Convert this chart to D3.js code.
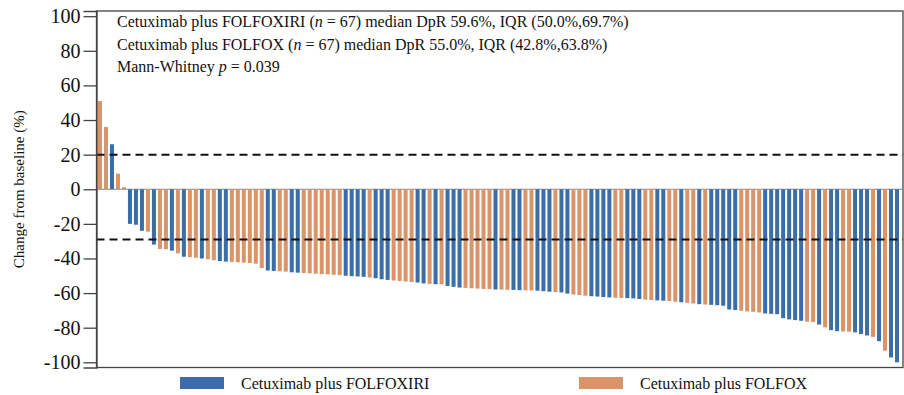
<!DOCTYPE html>
<html>
<head>
<meta charset="utf-8">
<script src="https://cdn.jsdelivr.net/npm/d3@7/dist/d3.min.js"></script>
<style>
  html, body { margin: 0; padding: 0; background: #fff; }
  svg { display: block; }
  text { font-family: "Liberation Serif", "Times New Roman", serif; fill: #111; }
</style>
</head>
<body>
<svg id="chart" width="904" height="395"></svg>
<script>
// Best percentage change from baseline per patient, sorted (waterfall order)
const change = [
  51, 36, 26, 9, 1.2, -20, -20.5, -24, -24.5, -32,
  -34.5, -34.7, -35.5, -37, -39, -39.3, -39.6, -40, -40.5, -41,
  -41.5, -41.8, -42, -42.2, -42.4, -42.6, -43, -45.5, -47, -47.2,
  -47.4, -47.6, -48, -48.2, -48.4, -48.6, -48.8, -49, -49.2, -49.4,
  -49.6, -50, -50.2, -50.4, -50.6, -51, -51.4, -52, -52.4, -52.7,
  -53, -53.3, -53.6, -53.9, -54.4, -54.7, -54.9, -55, -55.9, -56.4,
  -56.8, -57, -57.2, -57.4, -57.6, -57.7, -57.9, -58, -58.1, -58.2,
  -58.3, -58.4, -58.5, -58.6, -58.9, -59.2, -59.4, -59.6, -60.3, -60.8,
  -61.1, -61.5, -61.8, -62, -62.3, -62.5, -62.7, -62.8, -62.9, -63.1,
  -63.4, -63.8, -64, -64.2, -64.4, -64.6, -65, -65.3, -65.6, -66,
  -66.4, -66.6, -66.8, -67, -67.3, -69.5, -69.8, -70.2, -70.6, -70.8,
  -71.2, -71.8, -72, -72.2, -74.5, -75.2, -75.6, -76, -76.5, -76.7,
  -78.2, -79.8, -81.4, -82, -82.2, -82.3, -82.7, -83.7, -84.5, -85.3,
  -87.8, -93.3, -97.2, -100
];
// Treatment arm per bar: X = FOLFOXIRI, F = FOLFOX
const arm = (
  "FFXFF" + "XXXFX" + "FFXFX" + "FFXFF" + "XXFFF" + "FFFXX" + "FFXXF" + "FFFFF" +
  "FXXXX" + "FXXXF" + "FFFXX" + "FXFXX" + "XFFFF" + "FXFFX" + "XFFXX" + "XFXXF" +
  "FFXXX" + "XFFXX" + "XFFXX" + "FFXFF" + "XFXXX" + "XXFFF" + "FXXXX" + "XXXFF" +
  "XFXXF" + "FXXXF" + "XFXX"
).split("");

const armNames = ["Cetuximab plus FOLFOXIRI", "Cetuximab plus FOLFOX"];
const armKeys = ["X", "F"];
const armColors = ["#3b6ea8", "#d9946a"];
const yTicks = [100, 80, 60, 40, 20, 0, -20, -40, -60, -80, -100];
const thresholds = [20, -29];

const bars = change.map((v, i) => ({ id: i, value: v, arm: arm[i] }));

const svg = d3.select("#chart");
const plotL = 96.5, plotR = 903, plotT = 11, plotB = 367.5;

const x = d3.scaleBand().domain(bars.map(d => d.id)).range([97, 900]).paddingInner(0.33).paddingOuter(0.165);
const y = d3.scaleLinear().domain([-103, 103]).range([plotB, plotT]);
const color = d3.scaleOrdinal().domain(armKeys).range(armColors);

// frame
svg.append("rect")
  .attr("x", plotL).attr("y", plotT)
  .attr("width", plotR - plotL).attr("height", plotB - plotT)
  .attr("fill", "none").attr("stroke", "#444").attr("stroke-width", 1.3);

// zero line
svg.append("line")
  .attr("x1", plotL).attr("x2", plotR)
  .attr("y1", y(0)).attr("y2", y(0))
  .attr("stroke", "#888").attr("stroke-width", 1.2);

// bars
svg.append("g").selectAll("rect").data(bars).join("rect")
  .attr("x", d => x(d.id))
  .attr("width", x.bandwidth())
  .attr("y", d => y(Math.max(0, d.value)))
  .attr("height", d => Math.abs(y(d.value) - y(0)))
  .attr("fill", d => color(d.arm));

// response thresholds
svg.append("g").selectAll("line").data(thresholds).join("line")
  .attr("x1", plotL).attr("x2", plotR)
  .attr("y1", d => y(d)).attr("y2", d => y(d))
  .attr("stroke", "#111").attr("stroke-width", 2)
  .attr("stroke-dasharray", "8,5");

// y axis (plain hyphen for negatives)
const yAxis = d3.axisLeft(y).tickValues(yTicks).tickSize(13).tickPadding(3).tickFormat(d => String(d));
const ga = svg.append("g").attr("transform", `translate(${plotL},0)`).call(yAxis);
ga.select(".domain").attr("stroke", "#444").attr("stroke-width", 1.3);
ga.selectAll(".tick line").attr("stroke", "#444").attr("stroke-width", 1.3);
ga.selectAll(".tick text").attr("font-size", 20).attr("font-family", "Liberation Serif").attr("fill", "#111");

// axis title
svg.append("text")
  .attr("transform", `translate(24,${(plotT + plotB) / 2}) rotate(-90)`)
  .attr("text-anchor", "middle")
  .attr("font-size", 15)
  .text("Change from baseline (%)");

// summary statistics
const notes = svg.append("g").attr("font-size", 16);
const line1 = notes.append("text").attr("x", 117).attr("y", 26.5);
line1.append("tspan").text("Cetuximab plus FOLFOXIRI (");
line1.append("tspan").attr("font-style", "italic").text("n");
line1.append("tspan").text(" = 67) median DpR 59.6%, IQR (50.0%,69.7%)");
const line2 = notes.append("text").attr("x", 117).attr("y", 49.5);
line2.append("tspan").text("Cetuximab plus FOLFOX (");
line2.append("tspan").attr("font-style", "italic").text("n");
line2.append("tspan").text(" = 67) median DpR 55.0%, IQR (42.8%,63.8%)");
const line3 = notes.append("text").attr("x", 117).attr("y", 72);
line3.append("tspan").text("Mann-Whitney ");
line3.append("tspan").attr("font-style", "italic").text("p");
line3.append("tspan").text(" = 0.039");

// legend
const legendX = [180, 579];
const lg = svg.append("g").selectAll("g").data(armKeys).join("g")
  .attr("transform", (d, i) => `translate(${legendX[i]},377)`);
lg.append("rect").attr("width", 44).attr("height", 12).attr("fill", d => color(d));
lg.append("text").attr("x", 61).attr("y", 11.5).attr("font-size", 16)
  .text((d, i) => armNames[i]);
</script>
</body>
</html>
